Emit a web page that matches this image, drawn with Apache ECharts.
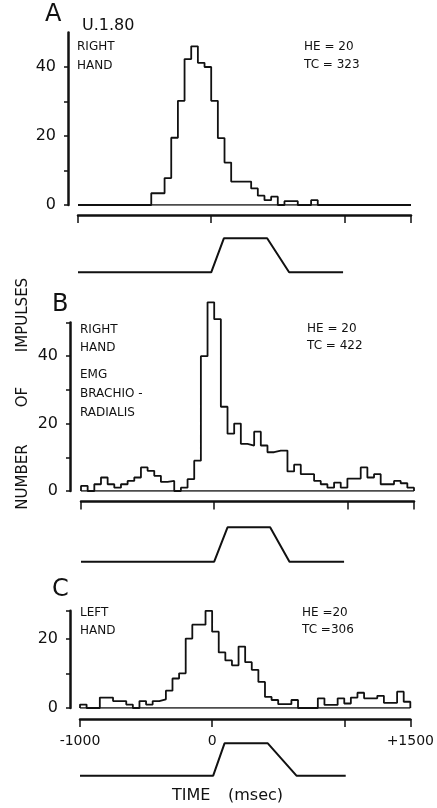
<!DOCTYPE html>
<html>
<head>
<meta charset="utf-8">
<script src="https://cdn.jsdelivr.net/npm/echarts@6/dist/echarts.min.js"></script>
<style>
html,body{margin:0;padding:0;background:#fff;}
#chart{width:437px;height:808px;}
</style>
</head>
<body>
<div id="chart"></div>
<script>
// ---- data ----
const binStart = -1000;
const binWidth = 50; // msec per bin
const timeRange = [-1000, 1500];
const timeTicks = [-1000, 0, 1000, 1500];
const timeTickLabels = [-1000, 0, 1500];

// Panel A: U.1.80, right hand (TC = 323)
const histA = [0,0,0,0,0,0,0,0,0,0, 0,3.4,3.4,7.8,19.5,30.2,42.3,46,41.2,40,
               30.2,19.4,12.3,6.8,6.8,6.8,4.8,2.7,1.4,2.4, 0,1.1,1.1,0,0,1.4,0,0,0,0,
               0,0,0,0,0,0,0,0,0,0];
// Panel B: right hand, EMG brachio-radialis (TC = 422)
const histB = [1.5,0,2,4,2,1,2,3,4,7, 6,4.5,2.7,3,0,1,3.5,9,40,56,
               51,25,17,20,14,13.5,17.6,13.5,11.5,12, 12,5.8,7.8,5,5,3,2,1,2.5,1,
               3.7,3.7,7,4,5,2,2,3,2.3,1];
// Panel C: left hand (TC = 306)
const histC = [1,0,0,3,3,2,2,1,0,2, 1,2,2.5,5,8.5,10,20,24,24,28,
               22,16,13.7,12.3,17.7,13.2,11,7.5,3.2,2.3, 1.1,1.1,2.3,0,0,0,2.8,0.9,0.9,2.8,
               1.3,3,4.4,2.8,2.8,3.5,1.5,1.5,4.7,1.8];

// Movement traces (time, relative position)
const traceTimeA = [-1000, 0, 95, 420, 585, 990];
const traceTimeB = [-1000, 0, 100, 420, 565, 975];
const traceTimeC = [-1000, 0, 85, 410, 625, 995];
const traceLevel = [0, 0, 1, 1, 0, 0];

const yMaxA = 50, yMaxB = 50, yMaxC = 28;
const yTicksA = [0,10,20,30,40];
const yTicksB = [0,10,20,30,40,50];
const yTicksC = [0,10,20,28];
const yLabelsA = [0,20,40];
const yLabelsB = [0,20,40];
const yLabelsC = [0,20];

// ---- helpers ----
const INK = '#111';
const FONT = 'DejaVu Sans';
function histData(vals){
  const d = [[binStart, 0]];
  vals.forEach((v,i)=>d.push([binStart + i*binWidth, v]));
  const end = binStart + vals.length*binWidth;
  d.push([end, vals[vals.length-1]]);
  d.push([end, 0]);
  return d;
}
function traceData(times){ return times.map((t,i)=>[t, traceLevel[i]]); }

const grids = [
  {left:78, right:26, top:32.5, bottom:603},   // A
  {left:81, right:23, top:322.5, bottom:317},  // B
  {left:80, right:24, top:610.8, bottom:100},  // C
  {left:78, right:26, top:238.3, bottom:535.7},// trace A
  {left:81, right:23, top:527.3, bottom:246.3},// trace B
  {left:80, right:24, top:743.3, bottom:32.3}  // trace C
];

function mainX(gi, showLabels, off){
  return {
    type:'value', gridIndex:gi, min:timeRange[0], max:timeRange[1], position:'bottom', offset:off,
    axisLine:{show:true, onZero:false, lineStyle:{color:INK, width:2.5}},
    axisTick:{show:true, customValues:timeTicks, length:8, lineStyle:{color:INK, width:1.5}},
    axisLabel:{show:showLabels, customValues:timeTickLabels, margin:15, fontSize:14, fontFamily:FONT, color:INK,
      formatter:v=> v>0 ? '+'+v : String(v)},
    splitLine:{show:false}
  };
}
function mainY(gi, max, ticks, labels, off){
  return {
    type:'value', gridIndex:gi, min:0, max:max, position:'left', offset:off,
    axisLine:{show:true, onZero:false, lineStyle:{color:INK, width:2.5}},
    axisTick:{show:true, customValues:ticks, length:4, lineStyle:{color:INK, width:1.5}},
    axisLabel:{show:true, customValues:labels, margin:12, fontSize:16, fontFamily:FONT, color:INK},
    splitLine:{show:false}
  };
}
function hiddenX(gi){ return {type:'value', gridIndex:gi, min:timeRange[0], max:timeRange[1], show:false}; }
function hiddenY(gi){ return {type:'value', gridIndex:gi, min:0, max:1, show:false}; }

function histSeries(idx, vals){
  return {type:'line', xAxisIndex:idx, yAxisIndex:idx, data:histData(vals), step:'end', symbol:'none',
    clip:false, lineStyle:{color:INK, width:1.8}, silent:true, z:3};
}
function baseSeries(idx){
  return {type:'line', xAxisIndex:idx, yAxisIndex:idx, data:[[timeRange[0],0],[timeRange[1],0]], symbol:'none',
    lineStyle:{color:INK, width:1.6}, silent:true, z:2};
}
function traceSeries(idx, times){
  return {type:'line', xAxisIndex:idx, yAxisIndex:idx, data:traceData(times), symbol:'none',
    clip:false, lineStyle:{color:INK, width:2}, silent:true};
}

function txt(x, y, text, size, opts){
  return Object.assign({type:'text', x:x, y:y, silent:true,
    style:Object.assign({text:text, font:size+'px "'+FONT+'"', fill:INK,
      textAlign:'left', textVerticalAlign:'middle', verticalAlign:'middle'}, (opts&&opts.style)||{})},
    (opts&&opts.el)||{});
}

const graphics = [
  // Panel A
  txt(45, 15, 'A', 24),
  txt(82, 26, 'U.1.80', 16),
  txt(77, 47, 'RIGHT', 12),
  txt(77, 66, 'HAND', 12),
  txt(304, 47, 'HE = 20', 12),
  txt(304, 65, 'TC = 323', 12),
  // Panel B
  txt(52, 305, 'B', 24),
  txt(80, 330, 'RIGHT', 12),
  txt(80, 348, 'HAND', 12),
  txt(80, 375, 'EMG', 12),
  txt(80, 394, 'BRACHIO -', 12),
  txt(80, 413, 'RADIALIS', 12),
  txt(307, 329, 'HE = 20', 12),
  txt(307, 346, 'TC = 422', 12),
  // Panel C
  txt(52, 590, 'C', 24),
  txt(80, 613, 'LEFT', 12),
  txt(80, 631, 'HAND', 12),
  txt(302, 613, 'HE =20', 12),
  txt(302, 630, 'TC =306', 12),
  // axis titles
  txt(172, 796, 'TIME', 16),
  txt(228, 796, '(msec)', 16),
  txt(23, 315, 'IMPULSES', 15, {style:{textAlign:'center'}, el:{rotation:Math.PI/2}}),
  txt(23, 397, 'OF', 15, {style:{textAlign:'center'}, el:{rotation:Math.PI/2}}),
  txt(23, 477, 'NUMBER', 15, {style:{textAlign:'center'}, el:{rotation:Math.PI/2}})
];

const chart = echarts.init(document.getElementById('chart'), null, {renderer:'canvas'});
chart.setOption({
  backgroundColor:'#fff',
  animation:false,
  grid:grids,
  xAxis:[mainX(0,false,10), mainX(1,false,10.5), mainX(2,true,11), hiddenX(3), hiddenX(4), hiddenX(5)],
  yAxis:[mainY(0,yMaxA,yTicksA,yLabelsA,10), mainY(1,yMaxB,yTicksB,yLabelsB,11), mainY(2,yMaxC,yTicksC,yLabelsC,10),
         hiddenY(3), hiddenY(4), hiddenY(5)],
  series:[
    baseSeries(0), histSeries(0, histA),
    baseSeries(1), histSeries(1, histB),
    baseSeries(2), histSeries(2, histC),
    traceSeries(3, traceTimeA), traceSeries(4, traceTimeB), traceSeries(5, traceTimeC)
  ],
  graphic:graphics
});
</script>
</body>
</html>
